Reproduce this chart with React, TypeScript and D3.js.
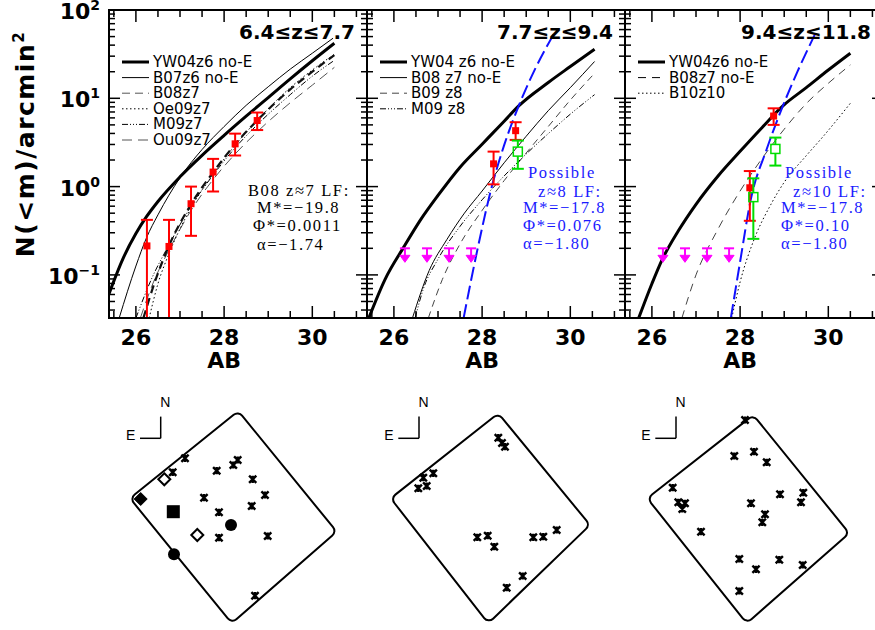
import React from 'react';
import * as d3 from 'd3';

// ---------- layout constants ----------
const W = 875, H = 630;
const PANEL_X = [109, 367, 625];
const PW = 258, TOP = 10, BOT = 318;
const X_DOMAIN: [number, number] = [25.39, 31.24];
const Y_DOMAIN: [number, number] = [0.0325, 100];

// ---------- data ----------
const titles = ['6.4≤z≤7.7', '7.7≤z≤9.4', '9.4≤z≤11.8'];
const xTickLabels = [26, 28, 30];
const yTickLabels = [{ v: 100, e: '2' }, { v: 10, e: '1' }, { v: 1, e: '0' }, { v: 0.1, e: '−1' }];

// panel 1 curves
const p1YW04Mag = [25.39, 25.7, 26.0, 26.24, 26.5, 27.0, 27.5, 28.0, 28.5, 29.0, 29.5, 30.0, 30.5];
const p1YW04N = [0.061, 0.150, 0.294, 0.456, 0.679, 1.29, 2.26, 3.80, 6.27, 10.2, 16.6, 26.6, 42.0];
const p1B07Mag = [25.62, 26.0, 26.24, 26.5, 27.0, 27.5, 28.0, 28.5, 29.0, 29.5, 30.0, 30.47];
const p1B07N = [0.0324, 0.126, 0.263, 0.479, 1.26, 2.63, 4.79, 8.32, 13.5, 21.4, 32.4, 47.9];
const p1B08Mag = [26.17, 26.45, 26.75, 27.25, 27.75, 28.25, 28.75, 29.5, 30.0, 30.5];
const p1B08N = [0.0324, 0.0891, 0.214, 0.631, 1.45, 3.02, 5.62, 12.6, 20.0, 30.9];
const p1Oe09Mag = [26.3, 26.5, 26.75, 27.25, 27.75, 28.25, 28.75, 29.5, 30.0, 30.5];
const p1Oe09N = [0.0324, 0.0794, 0.174, 0.575, 1.38, 2.95, 5.62, 13.2, 20.9, 31.6];
const p1M09Mag = [26.0, 26.35, 26.75, 27.25, 27.75, 28.25, 28.75, 29.5, 30.0, 30.5];
const p1M09N = [0.0324, 0.0891, 0.219, 0.603, 1.35, 2.75, 5.01, 11.0, 17.8, 26.9];
const p1Ou09Mag = [26.1, 26.4, 26.75, 27.25, 27.75, 28.25, 28.75, 29.5, 30.0, 30.5];
const p1Ou09N = [0.0324, 0.0832, 0.191, 0.537, 1.20, 2.34, 4.17, 8.91, 14.1, 22.4];

// panel 2 curves
const p2YW04Mag = [25.43, 25.8, 26.23, 26.6, 27.0, 27.5, 28.0, 28.5, 28.83, 29.5, 30.0, 30.55];
const p2YW04N = [0.0324, 0.0891, 0.209, 0.417, 0.794, 1.66, 3.02, 5.50, 8.20, 15.1, 22.9, 36.0];
const p2B08Mag = [26.42, 26.8, 27.2, 27.6, 28.0, 28.5, 29.0, 29.5, 30.0, 30.55];
const p2B08N = [0.0324, 0.112, 0.251, 0.501, 0.891, 1.86, 3.72, 7.24, 13.2, 26.1];
const p2B09Mag = [26.78, 27.1, 27.5, 28.0, 28.5, 29.0, 29.5, 30.0, 30.55];
const p2B09N = [0.0324, 0.0891, 0.224, 0.537, 1.17, 2.40, 4.79, 9.55, 19.2];
const p2M09Mag = [26.48, 26.66, 27.0, 27.5, 28.0, 28.5, 29.0, 29.5, 30.0, 30.55];
const p2M09N = [0.0324, 0.0676, 0.151, 0.355, 0.708, 1.32, 2.34, 3.98, 6.61, 11.0];
const p2BlueMag = [27.58, 27.9, 28.22, 28.5, 28.83, 29.2, 29.64];
const p2BlueN = [0.0324, 0.2, 1.0, 2.95, 8.2, 21.4, 55.0];

// panel 3 curves
const p3YW04Mag = [25.7, 26.0, 26.23, 26.6, 27.0, 27.5, 28.0, 28.5, 28.97, 29.5, 30.0, 30.5];
const p3YW04N = [0.0324, 0.0794, 0.148, 0.316, 0.631, 1.32, 2.51, 4.68, 8.2, 13.2, 20.9, 32.4];
const p3B08Mag = [26.68, 27.0, 27.5, 28.0, 28.5, 29.0, 29.5, 30.0, 30.5];
const p3B08N = [0.0324, 0.1, 0.331, 0.891, 2.09, 4.47, 8.71, 14.8, 23.9];
const p3B10Mag = [27.81, 28.0, 28.3, 28.7, 29.0, 29.5, 29.88, 30.5];
const p3B10N = [0.0324, 0.0832, 0.24, 0.631, 1.12, 2.24, 3.68, 8.79];
const p3BlueMag = [27.79, 28.0, 28.24, 28.6, 28.97, 29.3, 29.69];
const p3BlueN = [0.0324, 0.141, 0.708, 2.63, 8.2, 20.0, 52.2];

// observed points
const p1RedMag = [26.25, 26.75, 27.25, 27.75, 28.25, 28.75];
const p1RedN = [0.213, 0.21, 0.64, 1.46, 3.05, 5.6];
const p1RedHi = [0.42, 0.42, 1.0, 2.06, 3.98, 6.9];
const p1RedLo = [0.001, 0.001, 0.277, 0.88, 2.25, 4.37];

const p2RedMag = [28.26, 28.76];
const p2RedN = [1.81, 4.3];
const p2RedHi = [2.49, 5.36];
const p2RedLo = [1.06, 3.38];
const p2GreenMag = [28.81];
const p2GreenN = [2.49];
const p2GreenHi = [3.32];
const p2GreenLo = [1.59];

const p3RedMag = [28.76, 28.22];
const p3RedN = [6.3, 0.97];
const p3RedHi = [7.7, 1.5];
const p3RedLo = [5.0, 0.41];
const p3GreenMag = [28.8, 28.3];
const p3GreenN = [2.67, 0.76];
const p3GreenHi = [3.59, 1.24];
const p3GreenLo = [1.73, 0.256];

const limitMag = [26.25, 26.75, 27.25, 27.75];
const limitN = [0.2, 0.2, 0.2, 0.2];

// styles
type Style = { w: number; c: string; dash?: string };
const S_THICK: Style = { w: 3, c: '#000' };
const S_THIN: Style = { w: 1, c: '#000' };
const S_B08P1: Style = { w: 2.2, c: '#111', dash: '8,5' };
const S_DOT: Style = { w: 1, c: '#000', dash: '1.5,2.5' };
const S_DASHDOT: Style = { w: 1, c: '#000', dash: '6,2,1,2,1,2,1,2' };
const S_LDASH: Style = { w: 1, c: '#555', dash: '10,6' };
const S_DASH: Style = { w: 1, c: '#444', dash: '7,5' };
const S_BLUE: Style = { w: 2, c: '#1010ff', dash: '14,5' };

type Curve = { mag: number[]; n: number[]; s: Style };
type Leg = { label: string; s: Style };
type Pts = { mag: number[]; n: number[]; hi: number[]; lo: number[] };

const panels: {
  curves: Curve[]; legend: Leg[]; red: Pts | null; green: Pts | null; limits: boolean;
  ann: { t: string; x: number; y: number }[]; annColor: string;
}[] = [
  {
    curves: [
      { mag: p1YW04Mag, n: p1YW04N, s: S_THICK },
      { mag: p1B07Mag, n: p1B07N, s: S_THIN },
      { mag: p1Ou09Mag, n: p1Ou09N, s: S_LDASH },
      { mag: p1M09Mag, n: p1M09N, s: S_DASHDOT },
      { mag: p1Oe09Mag, n: p1Oe09N, s: S_DOT },
      { mag: p1B08Mag, n: p1B08N, s: S_B08P1 },
    ],
    legend: [
      { label: 'YW04z6 no-E', s: S_THICK },
      { label: 'B07z6 no-E', s: S_THIN },
      { label: 'B08z7', s: { w: 1, c: '#555', dash: '8,5' } },
      { label: 'Oe09z7', s: S_DOT },
      { label: 'M09z7', s: S_DASHDOT },
      { label: 'Ou09z7', s: S_LDASH },
    ],
    red: { mag: p1RedMag, n: p1RedN, hi: p1RedHi, lo: p1RedLo },
    green: null,
    limits: false,
    ann: [
      { t: 'B08 z≈7 LF:', x: 139, y: 196 },
      { t: 'M*=−19.8', x: 148, y: 213 },
      { t: 'Φ*=0.0011', x: 144, y: 231 },
      { t: 'α=−1.74', x: 148, y: 250 },
    ],
    annColor: '#000',
  },
  {
    curves: [
      { mag: p2YW04Mag, n: p2YW04N, s: S_THICK },
      { mag: p2B08Mag, n: p2B08N, s: S_THIN },
      { mag: p2B09Mag, n: p2B09N, s: S_DASH },
      { mag: p2M09Mag, n: p2M09N, s: S_DASHDOT },
      { mag: p2BlueMag, n: p2BlueN, s: S_BLUE },
    ],
    legend: [
      { label: 'YW04 z6 no-E', s: S_THICK },
      { label: 'B08 z7 no-E', s: S_THIN },
      { label: 'B09 z8', s: S_DASH },
      { label: 'M09 z8', s: S_DASHDOT },
    ],
    red: { mag: p2RedMag, n: p2RedN, hi: p2RedHi, lo: p2RedLo },
    green: { mag: p2GreenMag, n: p2GreenN, hi: p2GreenHi, lo: p2GreenLo },
    limits: true,
    ann: [
      { t: 'Possible', x: 161, y: 178 },
      { t: 'z≈8 LF:', x: 171, y: 197 },
      { t: 'M*=−17.8', x: 156, y: 213 },
      { t: 'Φ*=0.076', x: 156, y: 231 },
      { t: 'α=−1.80', x: 156, y: 249 },
    ],
    annColor: '#1a1aff',
  },
  {
    curves: [
      { mag: p3YW04Mag, n: p3YW04N, s: S_THICK },
      { mag: p3B08Mag, n: p3B08N, s: { w: 1, c: '#444', dash: '8,6' } },
      { mag: p3B10Mag, n: p3B10N, s: S_DOT },
      { mag: p3BlueMag, n: p3BlueN, s: S_BLUE },
    ],
    legend: [
      { label: 'YW04z6 no-E', s: S_THICK },
      { label: 'B08z7 no-E', s: { w: 1, c: '#000', dash: '8,6' } },
      { label: 'B10z10', s: S_DOT },
    ],
    red: { mag: p3RedMag, n: p3RedN, hi: p3RedHi, lo: p3RedLo },
    green: { mag: p3GreenMag, n: p3GreenN, hi: p3GreenHi, lo: p3GreenLo },
    limits: true,
    ann: [
      { t: 'Possible', x: 160, y: 178 },
      { t: 'z≈10 LF:', x: 168, y: 197 },
      { t: 'M*=−17.8', x: 156, y: 213 },
      { t: 'Φ*=0.10', x: 156, y: 231 },
      { t: 'α=−1.80', x: 156, y: 249 },
    ],
    annColor: '#1a1aff',
  },
];

// ---------- maps (bottom row) ----------
const mapOrigins = [[120, 385], [370, 385], [620, 385]];
const mapCorners = [
  [[10, 113.3], [118.3, 26], [216.7, 146.7], [111.7, 238.3]],
  [[20.7, 113.3], [128.3, 28.3], [220, 140], [118.3, 238.3]],
  [[27.3, 113.3], [133.3, 30], [229.3, 148.3], [126.7, 238.3]],
];
const compassCorner = [[40.7, 53.3], [49, 53.3], [56, 53.3]];
const map1Cross = [[65, 73.3], [52.7, 87.3], [96.7, 85.7], [113.3, 80], [117.7, 75], [132.7, 94.3], [145, 110], [84, 112.7], [131.7, 121], [99, 127.3], [99, 152.7], [147.7, 151], [135, 210.7]];
const map1OpenDiamond = [[44.3, 94.3], [77.3, 150]];
const map1FilledDiamond = [[20.7, 114]];
const map1FilledSquare = [[53.3, 126.7]];
const map1FilledCircle = [[111, 140], [54, 169.3]];
const map2Cross = [[128.3, 52.7], [132, 58], [135, 61.7], [63.3, 88.3], [53.3, 92.7], [48.3, 103.3], [56.7, 101], [107.3, 152.3], [117.7, 150.7], [124.3, 161.7], [163.3, 152.3], [173.3, 151.7], [186.7, 145], [152.7, 191], [136.7, 202.7]];
const map3Cross = [[125, 35], [114.3, 71], [134, 66.7], [146.7, 77.3], [52.7, 102.7], [58.3, 117.3], [65, 118.3], [62.3, 124], [131, 118.3], [160, 109.3], [183.3, 107.7], [181, 117.3], [145, 129.3], [142.3, 137.3], [81, 146.7], [119.3, 174], [136, 184.3], [159.3, 174.7], [182.7, 180], [119.3, 206]];
const mapCrosses = [map1Cross, map2Cross, map3Cross];

const SANS = 'DejaVu Sans, sans-serif';
const SERIF = 'Liberation Serif, serif';

function roundedPoly(pts: number[][], r: number): string {
  const p = d3.path();
  const n = pts.length;
  const mid = (a: number[], b: number[]) => [(a[0] + b[0]) / 2, (a[1] + b[1]) / 2];
  const start = mid(pts[n - 1], pts[0]);
  p.moveTo(start[0], start[1]);
  for (let i = 0; i < n; i++) {
    const c = pts[i];
    const nx = pts[(i + 1) % n];
    const m = mid(c, nx);
    p.arcTo(c[0], c[1], m[0], m[1], r);
  }
  p.closePath();
  return p.toString();
}

function Panel({ idx }: { idx: number }) {
  const P = panels[idx];
  const x = d3.scaleLinear().domain(X_DOMAIN).range([0, PW]);
  const y = d3.scaleLog().domain(Y_DOMAIN).range([BOT, TOP]);
  const line = d3.line<[number, number]>().x(d => x(d[0])).y(d => y(d[1])).curve(d3.curveMonotoneX);
  const xt = x.ticks(12);
  const yt = y.ticks();
  const clipId = `clip${idx}`;
  const isMajorY = (v: number) => Math.abs(Math.log10(v) - Math.round(Math.log10(v))) < 1e-6;
  const capW = 6;
  return (
    <g transform={`translate(${PANEL_X[idx]},0)`}>
      <defs>
        <clipPath id={clipId}><rect x={0} y={TOP} width={PW} height={BOT - TOP} /></clipPath>
      </defs>
      <g clipPath={`url(#${clipId})`}>
        {P.curves.map((c, i) => (
          <path key={i} d={line(c.mag.map((m, j) => [m, c.n[j]] as [number, number])) || ''}
            fill="none" stroke={c.s.c} strokeWidth={c.s.w} strokeDasharray={c.s.dash} />
        ))}
        {P.red && P.red.mag.map((m, i) => (
          <g key={'r' + i} stroke="#ff0000" strokeWidth={2}>
            <line x1={x(m)} x2={x(m)} y1={y(P.red!.hi[i])} y2={y(P.red!.lo[i])} />
            <line x1={x(m) - capW} x2={x(m) + capW} y1={y(P.red!.hi[i])} y2={y(P.red!.hi[i])} />
            <line x1={x(m) - capW} x2={x(m) + capW} y1={y(P.red!.lo[i])} y2={y(P.red!.lo[i])} />
            <rect x={x(m) - 3.5} y={y(P.red!.n[i]) - 3.5} width={7} height={7} fill="#ff0000" stroke="none" />
          </g>
        ))}
        {P.green && P.green.mag.map((m, i) => (
          <g key={'g' + i} stroke="#00dd00" strokeWidth={2}>
            <line x1={x(m)} x2={x(m)} y1={y(P.green!.hi[i])} y2={y(P.green!.n[i]) - 4.5} />
            <line x1={x(m)} x2={x(m)} y1={y(P.green!.n[i]) + 4.5} y2={y(P.green!.lo[i])} />
            <line x1={x(m) - capW} x2={x(m) + capW} y1={y(P.green!.hi[i])} y2={y(P.green!.hi[i])} />
            <line x1={x(m) - capW} x2={x(m) + capW} y1={y(P.green!.lo[i])} y2={y(P.green!.lo[i])} />
            <rect x={x(m) - 4.5} y={y(P.green!.n[i]) - 4.5} width={9} height={9} fill="none" strokeWidth={1.5} />
          </g>
        ))}
        {P.limits && limitMag.map((m, i) => {
          const cx = x(m), cy = y(limitN[i]);
          return (
            <g key={'l' + i} stroke="#ff00ff" fill="#ff00ff" strokeWidth={2}>
              <line x1={cx - 5} x2={cx + 5} y1={cy} y2={cy} />
              <line x1={cx} x2={cx} y1={cy} y2={cy + 9} />
              <path d={`M${cx - 5},${cy + 7}L${cx + 5},${cy + 7}L${cx},${cy + 14}Z`} strokeWidth={1} />
            </g>
          );
        })}
      </g>
      {/* frame */}
      <rect x={0} y={TOP} width={PW} height={BOT - TOP} fill="none" stroke="#000" strokeWidth={2} />
      {/* x ticks */}
      {xt.map((v, i) => {
        const major = Math.abs(v % 2) < 1e-6;
        const L = major ? 12 : 7;
        return (
          <g key={'xt' + i} stroke="#000" strokeWidth={1.5}>
            <line x1={x(v)} x2={x(v)} y1={BOT} y2={BOT - L} />
            <line x1={x(v)} x2={x(v)} y1={TOP} y2={TOP + L} />
          </g>
        );
      })}
      {/* y ticks */}
      {yt.map((v, i) => {
        const L = isMajorY(v) ? 11 : 6;
        return (
          <g key={'yt' + i} stroke="#000" strokeWidth={1.5}>
            <line x1={0} x2={L} y1={y(v)} y2={y(v)} />
            <line x1={PW} x2={PW - L} y1={y(v)} y2={y(v)} />
          </g>
        );
      })}
      {/* x tick labels */}
      {xTickLabels.map(v => (
        <text key={'xl' + v} x={x(v)} y={345} textAnchor="middle" fontFamily={SANS} fontWeight="bold" fontSize={22}>{v}</text>
      ))}
      <text x={x(28)} y={368} textAnchor="middle" fontFamily={SANS} fontWeight="bold" fontSize={22}>AB</text>
      {/* title */}
      <text x={246} y={39} textAnchor="end" fontFamily={SANS} fontWeight="bold" fontSize={20}>{titles[idx]}</text>
      {/* legend */}
      {P.legend.map((l, i) => {
        const ly = 62 + i * 15.6;
        return (
          <g key={'lg' + i}>
            <line x1={13} x2={40} y1={ly} y2={ly} stroke={l.s.c} strokeWidth={l.s.w} strokeDasharray={l.s.dash} />
            <text x={44} y={ly + 5} fontFamily={SANS} fontSize={15}>{l.label}</text>
          </g>
        );
      })}
      {/* annotation */}
      {P.ann.map((a, i) => (
        <text key={'an' + i} x={a.x} y={a.y} fontFamily={SERIF} fontSize={16.5} letterSpacing={1.6} fill={P.annColor}>{a.t}</text>
      ))}
    </g>
  );
}

function Map({ idx }: { idx: number }) {
  const [ox, oy] = mapOrigins[idx];
  const sx = d3.scaleLinear().domain([0, 1]).range([ox, ox + 1]);
  const sy = d3.scaleLinear().domain([0, 1]).range([oy, oy + 1]);
  const corners = mapCorners[idx].map(p => [sx(p[0]), sy(p[1])]);
  const [cx, cy] = compassCorner[idx];
  const crossPath = (px: number, py: number) => {
    const r = 3.6;
    return `M${px - r},${py - r}L${px + r},${py + r}M${px - r},${py + r}L${px + r},${py - r}M${px},${py - r}L${px},${py + r}`;
  };
  return (
    <g>
      <path d={roundedPoly(corners, 6)} fill="none" stroke="#000" strokeWidth={2} />
      <line x1={sx(cx)} x2={sx(cx)} y1={sy(cy - 21.7)} y2={sy(cy)} stroke="#000" strokeWidth={1.5} />
      <line x1={sx(cx - 20.7)} x2={sx(cx)} y1={sy(cy)} y2={sy(cy)} stroke="#000" strokeWidth={1.5} />
      <text x={sx(cx + 4.5)} y={sy(cy - 31)} textAnchor="middle" fontFamily="Liberation Sans, sans-serif" fontSize={14}>N</text>
      <text x={sx(cx - 30)} y={sy(cy + 2)} textAnchor="middle" fontFamily="Liberation Sans, sans-serif" fontSize={14}>E</text>
      {mapCrosses[idx].map((p, i) => (
        <path key={'c' + i} d={crossPath(sx(p[0]), sy(p[1]))} stroke="#000" strokeWidth={2.4} fill="none" />
      ))}
      {idx === 0 && (
        <g>
          {map1OpenDiamond.map((p, i) => (
            <path key={'od' + i} d={`M${sx(p[0])},${sy(p[1]) - 6}L${sx(p[0]) + 6},${sy(p[1])}L${sx(p[0])},${sy(p[1]) + 6}L${sx(p[0]) - 6},${sy(p[1])}Z`} fill="#fff" stroke="#000" strokeWidth={2} />
          ))}
          {map1FilledDiamond.map((p, i) => (
            <path key={'fd' + i} d={`M${sx(p[0])},${sy(p[1]) - 6.5}L${sx(p[0]) + 6.5},${sy(p[1])}L${sx(p[0])},${sy(p[1]) + 6.5}L${sx(p[0]) - 6.5},${sy(p[1])}Z`} fill="#000" stroke="#000" strokeWidth={1} />
          ))}
          {map1FilledSquare.map((p, i) => (
            <rect key={'fs' + i} x={sx(p[0]) - 6.5} y={sy(p[1]) - 6.5} width={13} height={13} fill="#000" />
          ))}
          {map1FilledCircle.map((p, i) => (
            <circle key={'fc' + i} cx={sx(p[0])} cy={sy(p[1])} r={6} fill="#000" />
          ))}
        </g>
      )}
    </g>
  );
}

export default function App() {
  const yLab = d3.scaleLog().domain(Y_DOMAIN).range([BOT, TOP]);
  return (
    <div style={{ position: 'absolute', left: 0, top: 0 }}>
      <svg width={W} height={H} style={{ display: 'block', background: '#fff' }}>
        <rect width={W} height={H} fill="#fff" />
        {[0, 1, 2].map(i => <Panel key={i} idx={i} />)}
        {/* y tick labels */}
        {yTickLabels.map((t, i) => (
          <text key={'yl' + i} x={100} y={yLab(t.v) + 9} textAnchor="end" fontFamily={SANS} fontWeight="bold" fontSize={22}>
            10<tspan dy={-9} fontSize={14}>{t.e}</tspan>
          </text>
        ))}
        <text transform="translate(34,144) rotate(-90)" textAnchor="middle" fontFamily={SANS} fontWeight="bold" fontSize={25} letterSpacing={1.5}>
          N(&lt;m)/arcmin<tspan dy={-10} fontSize={15}>2</tspan>
        </text>
        {[0, 1, 2].map(i => <Map key={'m' + i} idx={i} />)}
      </svg>
    </div>
  );
}
